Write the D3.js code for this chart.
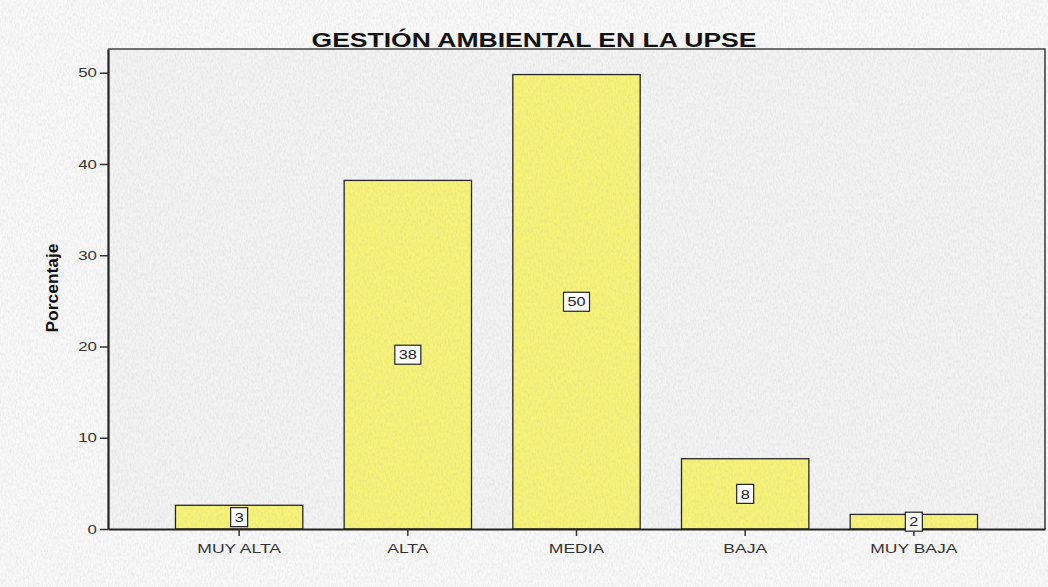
<!DOCTYPE html>
<html>
<head>
<meta charset="utf-8">
<script src="https://cdn.jsdelivr.net/npm/d3@7"></script>
<style>
  body { margin: 0; background: #f6f6f6; }
  svg { display: block; }
</style>
</head>
<body>
<div id="chart"></div>
<script>
// data
var categories = ["MUY ALTA", "ALTA", "MEDIA", "BAJA", "MUY BAJA"];
var percentages = [2.6, 38.2, 49.8, 7.7, 1.6];
var barLabels = ["3", "38", "50", "8", "2"];
var yTicks = [0, 10, 20, 30, 40, 50];

var W = 1048, H = 587;
var plot = {left: 108, right: 1045, top: 49, bottom: 529};

var svg = d3.select("#chart")
    .append("svg")
    .attr("width", W)
    .attr("height", H);

// paper texture
var defs = svg.append("defs");
var f = defs.append("filter").attr("id", "paper")
    .attr("x", 0).attr("y", 0).attr("width", "100%").attr("height", "100%");
f.append("feTurbulence")
    .attr("type", "fractalNoise")
    .attr("baseFrequency", "0.6 0.3")
    .attr("numOctaves", 2)
    .attr("seed", 3);
f.append("feColorMatrix")
    .attr("type", "matrix")
    .attr("values", "0 0 0 0 0.35  0 0 0 0 0.35  0 0 0 0 0.35  0 0 0 -1.6 1.0");

svg.append("rect")
    .attr("width", W).attr("height", H)
    .attr("fill", "#f8f8f8");

// scales
var x = d3.scaleBand()
    .domain(categories)
    .range([plot.left, plot.right])
    .paddingInner(0.245)
    .paddingOuter(0.4);

var y = d3.scaleLinear()
    .domain([0, 52.6])
    .range([plot.bottom, plot.top]);

// plot background
svg.append("rect")
    .attr("x", plot.left).attr("y", plot.top)
    .attr("width", plot.right - plot.left)
    .attr("height", plot.bottom - plot.top)
    .attr("fill", "#f3f3f3");

var data = categories.map(function(c, i) {
    return {cat: c, value: percentages[i], label: barLabels[i]};
});

// bars
svg.append("g")
  .selectAll("rect")
  .data(data)
  .enter()
  .append("rect")
    .attr("x", function(d) { return x(d.cat); })
    .attr("y", function(d) { return y(d.value); })
    .attr("width", x.bandwidth())
    .attr("height", function(d) { return y(0) - y(d.value); })
    .attr("fill", "#f7f378")
    .attr("stroke", "#222")
    .attr("stroke-width", 1.3);

// texture overlay
svg.append("rect")
    .attr("width", W).attr("height", H)
    .attr("filter", "url(#paper)")
    .attr("opacity", 0.2)
    .style("pointer-events", "none");

// frame
svg.append("path")
    .attr("d", "M" + plot.left + "," + plot.top + "H" + plot.right + "V" + plot.bottom)
    .attr("fill", "none")
    .attr("stroke", "#444")
    .attr("stroke-width", 1.6);

// y axis
var yAxis = svg.append("g")
    .attr("transform", "translate(" + plot.left + ",0)")
    .call(d3.axisLeft(y).tickValues(yTicks).tickSize(8).tickSizeOuter(0).tickPadding(3));
yAxis.select(".domain")
    .attr("stroke", "#222")
    .attr("stroke-width", 2.2);
yAxis.selectAll(".tick line").attr("stroke", "#333").attr("stroke-width", 1.5);
yAxis.selectAll("text")
    .style("font", "13px 'Liberation Sans', Arial, sans-serif")
    .attr("fill", "#333")
    .each(function() {
        var len = this.getComputedTextLength();
        d3.select(this).attr("textLength", len * 1.3).attr("lengthAdjust", "spacingAndGlyphs");
    });

// x axis
var xAxis = svg.append("g")
    .attr("transform", "translate(0," + plot.bottom + ")")
    .call(d3.axisBottom(x).tickSize(7).tickSizeOuter(0).tickPadding(8));
xAxis.select(".domain")
    .attr("stroke", "#222")
    .attr("stroke-width", 2.2);
xAxis.selectAll(".tick line").attr("stroke", "#333").attr("stroke-width", 1.5);
xAxis.selectAll("text")
    .style("font", "12.5px 'Liberation Sans', Arial, sans-serif")
    .attr("fill", "#333")
    .each(function() {
        var len = this.getComputedTextLength();
        d3.select(this).attr("textLength", len * 1.4).attr("lengthAdjust", "spacingAndGlyphs");
    });

// value boxes in the middle of each bar
var lab = svg.append("g")
  .selectAll("g")
  .data(data)
  .enter()
  .append("g")
    .attr("transform", function(d) {
        var cy = (y(0) + y(d.value)) / 2;
        return "translate(" + (x(d.cat) + x.bandwidth() / 2) + "," + cy + ")";
    });

lab.append("text")
    .attr("text-anchor", "middle")
    .attr("dy", "0.36em")
    .style("font", "13px 'Liberation Sans', Arial, sans-serif")
    .attr("fill", "#222")
    .text(function(d) { return d.label; })
    .each(function() {
        var len = this.getComputedTextLength();
        d3.select(this).attr("textLength", len * 1.25).attr("lengthAdjust", "spacingAndGlyphs");
    });

lab.insert("rect", "text")
    .attr("x", function(d) { return -(d.label.length * 9 + 8) / 2; })
    .attr("y", -9.5)
    .attr("width", function(d) { return d.label.length * 9 + 8; })
    .attr("height", 19)
    .attr("fill", "#fcfcfc")
    .attr("stroke", "#222")
    .attr("stroke-width", 1.2);

// title
svg.append("text")
    .attr("x", 534)
    .attr("y", 47)
    .attr("text-anchor", "middle")
    .attr("textLength", 445)
    .attr("lengthAdjust", "spacingAndGlyphs")
    .style("font", "bold 21px 'Liberation Sans', Arial, sans-serif")
    .attr("fill", "#111")
    .text("GESTIÓN AMBIENTAL EN LA UPSE");

// y axis title
svg.append("text")
    .attr("transform", "translate(58,288) rotate(-90)")
    .attr("text-anchor", "middle")
    .attr("textLength", 89)
    .attr("lengthAdjust", "spacingAndGlyphs")
    .style("font", "bold 16px 'Liberation Sans Narrow', 'Liberation Sans', Arial, sans-serif")
    .attr("fill", "#111")
    .text("Porcentaje");
</script>
</body>
</html>
